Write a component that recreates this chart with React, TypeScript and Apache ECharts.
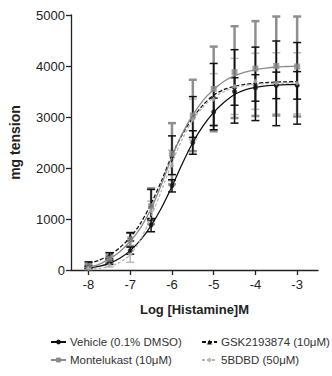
import React, { useEffect, useRef } from "react";
import * as echarts from "echarts";

const logDose = [-8, -7.5, -7, -6.5, -6, -5.5, -5, -4.5, -4, -3.5, -3];
const xTicks = [-8, -7, -6, -5, -4, -3];
const yTicks = [0, 1000, 2000, 3000, 4000, 5000];

const vehicleMean = [50, 150, 380, 880, 1650, 2500, 3100, 3500, 3570, 3620, 3620];
const vehicleSem = [20, 40, 70, 130, 120, 230, 270, 270, 260, 260, 270];
const gskMean = [120, 280, 650, 1280, 2250, 3000, 3400, 3600, 3650, 3660, 3660];
const gskSem = [40, 60, 80, 300, 380, 400, 650, 720, 720, 830, 800];
const montMean = [80, 220, 600, 1250, 2280, 3030, 3550, 3880, 3950, 4000, 3990];
const montSem = [40, 80, 130, 350, 600, 700, 830, 900, 930, 970, 980];
const bdbdMean = [30, 100, 300, 1150, 2050, 2950, 3350, 3600, 3700, 3660, 3660];
const bdbdSem = [20, 40, 150, 200, 300, 400, 500, 550, 550, 600, 600];

// fitted curves, every 0.25 log unit from -8 to -3
const fitDose = [-8, -7.75, -7.5, -7.25, -7, -6.75, -6.5, -6.25, -6, -5.75, -5.5, -5.25, -5, -4.75, -4.5, -4.25, -4, -3.75, -3.5, -3.25, -3];
const vehicleFit = [40, 70, 130, 230, 380, 590, 870, 1220, 1640, 2090, 2500, 2830, 3090, 3290, 3440, 3530, 3580, 3610, 3625, 3635, 3640];
const gskFit = [130, 190, 290, 440, 640, 920, 1300, 1750, 2250, 2660, 2990, 3240, 3430, 3540, 3600, 3640, 3660, 3675, 3685, 3690, 3692];
const montFit = [50, 110, 220, 360, 560, 830, 1200, 1680, 2220, 2680, 3040, 3330, 3540, 3700, 3810, 3880, 3930, 3960, 3980, 3990, 4000];
const bdbdFit = [15, 30, 70, 150, 300, 600, 1050, 1560, 2100, 2570, 2940, 3200, 3380, 3500, 3580, 3620, 3640, 3655, 3662, 3666, 3668];

const names = ["Vehicle (0.1% DMSO)", "GSK2193874 (10\u03bcM)", "Montelukast (10\u03bcM)", "5BDBD (50\u03bcM)"];

export default function App() {
  const ref = useRef<HTMLDivElement>(null);
  useEffect(() => {
    const chart = echarts.init(ref.current!, null, { renderer: "svg" });
    const font = "Liberation Sans, Arial, sans-serif";
    const sets = [
      { name: names[0], mean: vehicleMean, sem: vehicleSem, fit: vehicleFit, color: "#111", type: "solid", symbol: "circle", size: 5, barColor: "#111", barW: 1.5 },
      { name: names[1], mean: gskMean, sem: gskSem, fit: gskFit, color: "#111", type: [4, 2], symbol: "triangle", size: 5, barColor: "#111", barW: 1.5 },
      { name: names[2], mean: montMean, sem: montSem, fit: montFit, color: "#8a8a8a", type: "solid", symbol: "rect", size: 6, barColor: "#8f8f8f", barW: 2.5 },
      { name: names[3], mean: bdbdMean, sem: bdbdSem, fit: bdbdFit, color: "#b5b5b5", type: [3, 2], symbol: "diamond", size: 5, barColor: "#b8b8b8", barW: 1.5 },
    ];
    const errOrder = [3, 2, 1, 0];
    const series: any[] = [];
    errOrder.forEach((i) => {
      const s = sets[i];
      series.push({
        type: "custom",
        name: "err" + i,
        silent: true,
        z: 1,
        data: logDose.map((x, k) => [x, s.mean[k] - s.sem[k], s.mean[k] + s.sem[k]]),
        renderItem: (params: any, api: any) => {
          const lo = api.coord([api.value(0), api.value(1)]);
          const hi = api.coord([api.value(0), api.value(2)]);
          const w = 4;
          const st = { stroke: s.barColor, lineWidth: s.barW };
          return {
            type: "group",
            children: [
              { type: "line", shape: { x1: lo[0], y1: lo[1], x2: hi[0], y2: hi[1] }, style: st },
              { type: "line", shape: { x1: lo[0] - w, y1: lo[1], x2: lo[0] + w, y2: lo[1] }, style: st },
              { type: "line", shape: { x1: hi[0] - w, y1: hi[1], x2: hi[0] + w, y2: hi[1] }, style: st },
            ],
          };
        },
      });
    });
    sets.forEach((s, i) => {
      series.push({
        type: "line",
        name: s.name,
        z: 3,
        data: fitDose.map((x, k) => [x, s.fit[k]]),
        smooth: 0.3,
        symbol: s.symbol,
        symbolSize: s.size,
        showSymbol: false,
        itemStyle: { color: s.color },
        lineStyle: { color: s.color, width: 1.3, type: s.type },
      });
      series.push({
        type: "scatter",
        name: "pts" + i,
        z: 4,
        data: logDose.map((x, k) => [x, s.mean[k]]),
        symbol: s.symbol,
        symbolSize: s.size,
        itemStyle: { color: s.color },
      });
    });
    const legendPos = [
      { left: 50, top: 336 },
      { left: 201, top: 336 },
      { left: 50, top: 354 },
      { left: 201, top: 354 },
    ];
    chart.setOption({
      animation: false,
      backgroundColor: "#fff",
      grid: { left: 66, right: 14, top: 15, bottom: 106 },
      xAxis: {
        type: "value",
        min: -8.42,
        max: -2.5,
        name: "Log [Histamine]M",
        nameLocation: "middle",
        nameGap: 33,
        nameTextStyle: { fontFamily: font, fontWeight: "bold", fontSize: 13, color: "#222" },
        axisLine: { show: true, lineStyle: { color: "#222", width: 1.3 } },
        axisTick: { show: true, length: 5, customValues: xTicks, lineStyle: { color: "#222", width: 1.3 } },
        axisLabel: { customValues: xTicks, fontFamily: font, fontSize: 13, color: "#222", margin: 8 },
        splitLine: { show: false },
      },
      yAxis: {
        type: "value",
        min: 0,
        max: 5000,
        interval: 1000,
        name: "mg tension",
        nameLocation: "middle",
        nameGap: 49,
        nameTextStyle: { fontFamily: font, fontWeight: "bold", fontSize: 14, color: "#222" },
        axisLine: { show: true, lineStyle: { color: "#222", width: 1.3 } },
        axisTick: { show: true, length: 5, lineStyle: { color: "#222", width: 1.3 } },
        axisLabel: { fontFamily: font, fontSize: 13, color: "#222", margin: 6, customValues: yTicks, formatter: (v: number) => String(v) },
        splitLine: { show: false },
      },
      legend: sets.map((s, i) => ({
        data: [s.name],
        left: legendPos[i].left,
        top: legendPos[i].top,
        padding: 0,
        itemWidth: 15,
        itemHeight: 6,
        itemGap: 4,
        textStyle: { fontFamily: font, fontSize: 11.5, color: "#333", padding: [0, 0, 0, -1] },
      })),
      series,
    });
    return () => chart.dispose();
  }, []);
  return <div ref={ref} style={{ width: 332, height: 376, position: "absolute", left: 0, top: 0 }} />;
}
